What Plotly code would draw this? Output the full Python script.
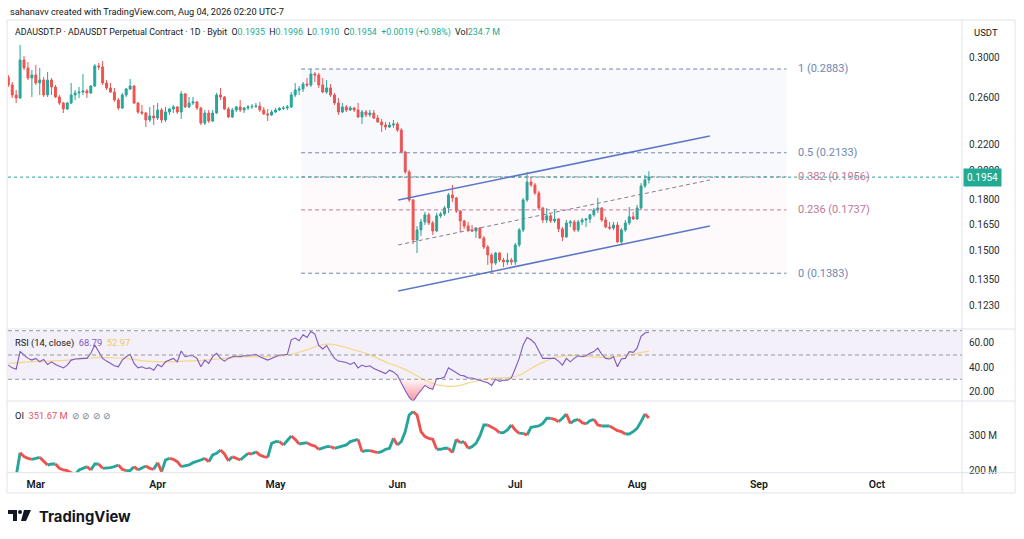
import math
import pandas as pd
import plotly.graph_objects as go

# ---------------- data ----------------
start_day = "2026-02-22"

opens = [
    0.2801, 0.2722, 0.2626, 0.2598, 0.2978, 0.2894, 0.2791, 0.2822, 0.2742, 0.2771,
    0.2626, 0.2771, 0.2702, 0.2607, 0.2551, 0.2497, 0.2551, 0.2626, 0.2645, 0.2654,
    0.2664, 0.2645, 0.2712, 0.2915, 0.2905, 0.2742, 0.2693, 0.2654, 0.2579, 0.2506,
    0.2626, 0.2683, 0.2712, 0.2551, 0.2470, 0.2461, 0.2400, 0.2435, 0.2417, 0.2488,
    0.2400, 0.2470, 0.2497, 0.2515, 0.2470, 0.2636, 0.2515, 0.2551, 0.2561, 0.2506,
    0.2374, 0.2461, 0.2391, 0.2461, 0.2626, 0.2607, 0.2497, 0.2426, 0.2488, 0.2515,
    0.2488, 0.2506, 0.2515, 0.2520, 0.2524, 0.2488, 0.2453, 0.2444, 0.2470, 0.2488,
    0.2501, 0.2506, 0.2515, 0.2626, 0.2673, 0.2683, 0.2732, 0.2722, 0.2832, 0.2822,
    0.2722, 0.2654, 0.2693, 0.2626, 0.2551, 0.2470, 0.2515, 0.2488, 0.2506, 0.2488,
    0.2426, 0.2470, 0.2444, 0.2461, 0.2417, 0.2383, 0.2357, 0.2340, 0.2357, 0.2366,
    0.2315, 0.2139, 0.1991, 0.1800, 0.1559, 0.1616, 0.1663, 0.1706, 0.1657, 0.1610,
    0.1700, 0.1712, 0.1749, 0.1833, 0.1813, 0.1730, 0.1669, 0.1639, 0.1616, 0.1610,
    0.1627, 0.1570, 0.1520, 0.1477, 0.1435, 0.1487, 0.1450, 0.1440, 0.1450, 0.1440,
    0.1531, 0.1616, 0.1800, 0.1920, 0.1900, 0.1846, 0.1749, 0.1675, 0.1700, 0.1669,
    0.1681, 0.1622, 0.1576, 0.1657, 0.1663, 0.1616, 0.1663, 0.1675, 0.1681, 0.1706,
    0.1736, 0.1749, 0.1675, 0.1633, 0.1627, 0.1645, 0.1548, 0.1616, 0.1657, 0.1694,
    0.1681, 0.1749, 0.1893, 0.1935,
]
highs = [
    0.2822, 0.2751, 0.2673, 0.3144, 0.3022, 0.2957, 0.2873, 0.2925, 0.2894, 0.2801,
    0.2852, 0.2791, 0.2722, 0.2626, 0.2561, 0.2561, 0.2742, 0.2673, 0.2702, 0.2832,
    0.2683, 0.2722, 0.2936, 0.2946, 0.2967, 0.2771, 0.2742, 0.2693, 0.2598, 0.2645,
    0.2693, 0.2781, 0.2722, 0.2561, 0.2533, 0.2470, 0.2515, 0.2533, 0.2551, 0.2506,
    0.2515, 0.2506, 0.2533, 0.2524, 0.2664, 0.2645, 0.2607, 0.2607, 0.2570, 0.2515,
    0.2488, 0.2488, 0.2488, 0.2645, 0.2693, 0.2617, 0.2515, 0.2506, 0.2524, 0.2579,
    0.2515, 0.2533, 0.2542, 0.2551, 0.2561, 0.2515, 0.2497, 0.2488, 0.2506, 0.2515,
    0.2524, 0.2533, 0.2654, 0.2742, 0.2712, 0.2751, 0.2791, 0.2883, 0.2852, 0.2842,
    0.2791, 0.2771, 0.2732, 0.2645, 0.2598, 0.2551, 0.2533, 0.2524, 0.2515, 0.2551,
    0.2488, 0.2488, 0.2488, 0.2488, 0.2444, 0.2409, 0.2383, 0.2383, 0.2400, 0.2383,
    0.2332, 0.2147, 0.2005, 0.1806, 0.1639, 0.1681, 0.1724, 0.1718, 0.1669, 0.1718,
    0.1724, 0.1761, 0.1846, 0.1900, 0.1820, 0.1736, 0.1675, 0.1663, 0.1645, 0.1633,
    0.1633, 0.1581, 0.1531, 0.1487, 0.1493, 0.1493, 0.1461, 0.1487, 0.1461, 0.1542,
    0.1627, 0.1813, 0.1991, 0.1955, 0.1913, 0.1859, 0.1755, 0.1749, 0.1712, 0.1736,
    0.1687, 0.1633, 0.1675, 0.1675, 0.1675, 0.1675, 0.1687, 0.1687, 0.1712, 0.1749,
    0.1813, 0.1755, 0.1694, 0.1663, 0.1663, 0.1663, 0.1627, 0.1675, 0.1755, 0.1724,
    0.1768, 0.1913, 0.1969, 0.1996,
]
lows = [
    0.2702, 0.2598, 0.2551, 0.2589, 0.2873, 0.2771, 0.2607, 0.2722, 0.2626, 0.2607,
    0.2607, 0.2626, 0.2598, 0.2533, 0.2461, 0.2488, 0.2542, 0.2579, 0.2598, 0.2626,
    0.2598, 0.2636, 0.2702, 0.2873, 0.2722, 0.2673, 0.2645, 0.2561, 0.2488, 0.2497,
    0.2607, 0.2673, 0.2542, 0.2453, 0.2444, 0.2340, 0.2383, 0.2357, 0.2400, 0.2374,
    0.2383, 0.2444, 0.2461, 0.2453, 0.2409, 0.2506, 0.2506, 0.2533, 0.2488, 0.2357,
    0.2357, 0.2374, 0.2383, 0.2453, 0.2579, 0.2488, 0.2417, 0.2417, 0.2470, 0.2470,
    0.2461, 0.2488, 0.2497, 0.2506, 0.2470, 0.2444, 0.2391, 0.2435, 0.2461, 0.2479,
    0.2488, 0.2488, 0.2506, 0.2607, 0.2626, 0.2654, 0.2702, 0.2702, 0.2751, 0.2693,
    0.2645, 0.2636, 0.2607, 0.2533, 0.2444, 0.2461, 0.2470, 0.2479, 0.2470, 0.2417,
    0.2366, 0.2426, 0.2426, 0.2409, 0.2374, 0.2299, 0.2315, 0.2332, 0.2332, 0.2299,
    0.2131, 0.1977, 0.1787, 0.1537, 0.1487, 0.1581, 0.1645, 0.1645, 0.1587, 0.1604,
    0.1687, 0.1700, 0.1718, 0.1787, 0.1718, 0.1604, 0.1622, 0.1604, 0.1604, 0.1570,
    0.1564, 0.1509, 0.1425, 0.1383, 0.1425, 0.1440, 0.1414, 0.1425, 0.1425, 0.1425,
    0.1520, 0.1604, 0.1787, 0.1886, 0.1833, 0.1736, 0.1657, 0.1657, 0.1657, 0.1657,
    0.1604, 0.1553, 0.1570, 0.1633, 0.1604, 0.1604, 0.1645, 0.1633, 0.1657, 0.1694,
    0.1718, 0.1663, 0.1627, 0.1616, 0.1616, 0.1542, 0.1537, 0.1604, 0.1645, 0.1675,
    0.1675, 0.1736, 0.1880, 0.1910,
]
closes = [
    0.2722, 0.2626, 0.2598, 0.2978, 0.2894, 0.2791, 0.2822, 0.2742, 0.2771, 0.2626,
    0.2771, 0.2702, 0.2607, 0.2551, 0.2497, 0.2551, 0.2626, 0.2645, 0.2654, 0.2664,
    0.2645, 0.2712, 0.2915, 0.2905, 0.2742, 0.2693, 0.2654, 0.2579, 0.2506, 0.2626,
    0.2683, 0.2712, 0.2551, 0.2470, 0.2461, 0.2400, 0.2435, 0.2417, 0.2488, 0.2400,
    0.2470, 0.2497, 0.2515, 0.2470, 0.2636, 0.2515, 0.2551, 0.2561, 0.2506, 0.2374,
    0.2461, 0.2391, 0.2461, 0.2626, 0.2607, 0.2497, 0.2426, 0.2488, 0.2515, 0.2488,
    0.2506, 0.2515, 0.2520, 0.2524, 0.2488, 0.2453, 0.2444, 0.2470, 0.2488, 0.2501,
    0.2506, 0.2515, 0.2626, 0.2673, 0.2683, 0.2732, 0.2722, 0.2832, 0.2822, 0.2722,
    0.2654, 0.2693, 0.2626, 0.2551, 0.2470, 0.2515, 0.2488, 0.2506, 0.2488, 0.2426,
    0.2470, 0.2444, 0.2461, 0.2417, 0.2383, 0.2357, 0.2340, 0.2357, 0.2366, 0.2315,
    0.2139, 0.1991, 0.1800, 0.1559, 0.1616, 0.1663, 0.1706, 0.1657, 0.1610, 0.1700,
    0.1712, 0.1749, 0.1833, 0.1813, 0.1730, 0.1669, 0.1639, 0.1616, 0.1610, 0.1627,
    0.1570, 0.1520, 0.1477, 0.1435, 0.1487, 0.1450, 0.1440, 0.1450, 0.1440, 0.1531,
    0.1616, 0.1800, 0.1920, 0.1900, 0.1846, 0.1749, 0.1675, 0.1700, 0.1669, 0.1681,
    0.1622, 0.1576, 0.1657, 0.1663, 0.1616, 0.1663, 0.1675, 0.1681, 0.1706, 0.1736,
    0.1749, 0.1675, 0.1633, 0.1627, 0.1645, 0.1548, 0.1616, 0.1657, 0.1694, 0.1681,
    0.1749, 0.1893, 0.1935, 0.1954,
]

rsi = [
    41.7, 39.4, 38.3, 52.8, 50.0, 47.2, 45.8, 47.2, 44.4, 46.4,
    42.2, 44.4, 42.2, 41.1, 39.4, 41.7, 45.8, 46.7, 47.2, 47.2,
    47.2, 51.4, 58.3, 52.2, 47.2, 45.0, 43.1, 41.1, 40.3, 45.8,
    48.6, 50.6, 43.1, 39.4, 40.3, 38.9, 39.4, 37.5, 42.2, 40.3,
    44.4, 45.8, 47.2, 44.4, 53.3, 48.6, 49.4, 49.4, 47.2, 40.3,
    45.8, 43.1, 48.6, 51.4, 47.2, 45.0, 47.2, 48.6, 49.2, 48.6,
    49.4, 49.4, 50.0, 50.6, 48.6, 47.2, 45.8, 47.2, 48.6, 50.0,
    50.0, 50.6, 62.5, 63.9, 61.7, 66.7, 64.4, 69.4, 67.2, 57.8,
    55.0, 57.8, 52.2, 47.2, 45.0, 44.4, 43.9, 42.2, 43.9, 39.4,
    41.7, 40.3, 41.1, 38.9, 37.5, 36.1, 34.7, 37.5, 36.1, 33.3,
    26.4, 20.8, 15.3, 11.7, 16.7, 20.8, 25.0, 22.8, 21.7, 30.6,
    30.6, 31.9, 39.4, 37.5, 35.6, 33.3, 32.8, 31.1, 31.1, 30.0,
    29.2, 27.8, 27.2, 25.0, 30.0, 28.3, 29.2, 29.2, 31.1, 38.9,
    47.2, 58.3, 64.4, 62.5, 59.7, 53.3, 47.2, 47.2, 47.2, 47.2,
    45.0, 41.7, 47.2, 44.4, 47.2, 49.4, 48.6, 49.4, 51.4, 52.8,
    55.6, 50.6, 47.2, 46.7, 48.6, 40.3, 46.7, 47.2, 52.8, 52.2,
    55.6, 65.3, 68.1, 68.79,
]

# RSI moving average, read every few days
rsi_ma_days = [
    "2026-02-22", "2026-02-27", "2026-03-04", "2026-03-09", "2026-03-14", "2026-03-17",
    "2026-03-20", "2026-03-24", "2026-03-29", "2026-04-03", "2026-04-08", "2026-04-13",
    "2026-04-18", "2026-04-23", "2026-04-28", "2026-05-03", "2026-05-06", "2026-05-09",
    "2026-05-12", "2026-05-15", "2026-05-18", "2026-05-21", "2026-05-24", "2026-05-27",
    "2026-05-30", "2026-06-02", "2026-06-05", "2026-06-08", "2026-06-11", "2026-06-14",
    "2026-06-17", "2026-06-20", "2026-06-23", "2026-06-26", "2026-06-29", "2026-07-02",
    "2026-07-05", "2026-07-08", "2026-07-11", "2026-07-14", "2026-07-17", "2026-07-20",
    "2026-07-23", "2026-07-26", "2026-07-29", "2026-08-01", "2026-08-04",
]
rsi_ma = [
    43.0, 44.4, 45.0, 45.8, 47.2, 48.0,
    47.8, 47.2, 45.0, 44.4, 45.0, 45.8,
    47.2, 48.6, 48.6, 49.4, 51.4, 54.2,
    57.8, 58.9, 57.0, 54.2, 51.4, 47.2,
    43.0, 39.4, 34.7, 29.2, 25.6, 24.2,
    25.0, 27.8, 30.0, 31.1, 31.4, 33.3,
    38.9, 43.9, 47.8, 49.4, 49.4, 48.6,
    48.0, 48.6, 49.4, 51.4, 52.97,
]

# open interest, millions
oi = [
    None, None, 185.0, 252.4, 241.0, 236.2, 233.3, 236.2, 239.0, 226.7,
    217.1, 220.0, 220.0, 207.6, 202.9, 201.0, 195.2, 189.5, 202.9, 207.6,
    212.4, 202.9, 220.0, 220.0, 207.6, 207.6, 209.5, 212.4, 217.1, 204.8,
    201.0, 201.0, 212.4, 202.9, 207.6, 214.3, 207.6, 204.8, 223.8, 198.1,
    231.4, 236.2, 233.3, 226.7, 212.4, 214.3, 217.1, 223.8, 226.7, 231.4,
    236.2, 226.7, 245.7, 250.5, 260.0, 248.6, 229.5, 241.0, 236.2, 231.4,
    241.0, 250.5, 248.6, 255.2, 245.7, 241.0, 239.0, 279.0, 283.8, 283.8,
    274.3, 288.6, 300.0, 290.5, 277.1, 279.0, 281.0, 274.3, 271.4, 261.9,
    266.7, 269.5, 269.5, 264.8, 267.6, 269.5, 274.3, 283.8, 286.7, 290.5,
    255.2, 258.1, 258.1, 255.2, 252.4, 255.2, 261.9, 264.8, 293.3, 274.3,
    283.8, 312.4, 360.0, 369.5, 360.0, 312.4, 298.1, 293.3, 290.5, 261.9,
    261.9, 264.8, 264.8, 252.4, 290.5, 281.0, 283.8, 264.8, 269.5, 279.0,
    300.0, 331.4, 331.4, 324.8, 319.0, 309.5, 309.5, 317.1, 331.4, 317.1,
    307.6, 307.6, 302.9, 324.8, 326.7, 328.6, 336.2, 350.5, 350.5, 347.6,
    341.0, 350.5, 362.9, 336.2, 343.8, 347.6, 338.1, 334.3, 343.8, 347.6,
    331.4, 328.6, 328.6, 328.6, 321.9, 315.2, 312.4, 305.7, 305.7, 312.4,
    321.9, 341.0, 362.9, 351.67,
]

fib_ratios = ["1", "0.5", "0.382", "0.236", "0"]
fib_prices = [0.2883, 0.2133, 0.1956, 0.1737, 0.1383]
fib_span = ["2026-05-07 12:00", "2026-09-08"]

chan_days = ["2026-06-01 05:00", "2026-08-19 12:00"]
chan_upper = [0.1800, 0.2266]
chan_mid = [0.1531, 0.1934]
chan_lower = [0.1297, 0.1639]

price_ticks = [0.3000, 0.2600, 0.2200, 0.2000, 0.1800, 0.1650, 0.1500, 0.1350, 0.1230]
rsi_ticks = [60, 40, 20]
oi_ticks = [300, 200]

last_ohlc = [0.1935, 0.1996, 0.1910, 0.1954]
last_change = "+0.0019 (+0.98%)"
last_vol = "234.7 M"
last_rsi, last_rsi_ma = 68.79, 52.97
last_oi = 351.67

# ---------------- styling / geometry ----------------
W, H = 1024, 539
UP, DOWN = "#26a69a", "#ef5350"
TXT = "#131722"
FONT = "Roboto"
FIB_BLUE, FIB_PINK = "#6f86b6", "#c0789a"


def fx(px):
    return px / W


def fy(py):
    return 1 - py / H


dates = pd.date_range(start_day, periods=len(closes), freq="D")
x_range = ["2026-02-21 22:10", "2026-10-22 16:00"]

fig = go.Figure()

# fib shading (behind candles)
fig.add_trace(go.Scatter(
    x=[fib_span[0], fib_span[1], fib_span[1], fib_span[0], fib_span[0]],
    y=[fib_prices[0], fib_prices[0], fib_prices[2], fib_prices[2], fib_prices[0]],
    fill="toself", fillcolor="rgba(120,140,200,0.055)", line=dict(width=0),
    mode="lines", hoverinfo="skip", xaxis="x", yaxis="y"))
fig.add_trace(go.Scatter(
    x=[fib_span[0], fib_span[1], fib_span[1], fib_span[0], fib_span[0]],
    y=[fib_prices[2], fib_prices[2], fib_prices[4], fib_prices[4], fib_prices[2]],
    fill="toself", fillcolor="rgba(240,120,150,0.045)", line=dict(width=0),
    mode="lines", hoverinfo="skip", xaxis="x", yaxis="y"))

for ratio, price in zip(fib_ratios, fib_prices):
    col = FIB_PINK if ratio in ("0.382", "0.236") else FIB_BLUE
    fig.add_trace(go.Scatter(
        x=fib_span, y=[price, price], mode="lines",
        line=dict(color=col, width=1, dash="4px,3px"),
        hoverinfo="skip", xaxis="x", yaxis="y"))

# current price dotted line
fig.add_trace(go.Scatter(
    x=x_range, y=[last_ohlc[3]] * 2, mode="lines",
    line=dict(color=UP, width=1, dash="dot"), hoverinfo="skip", xaxis="x", yaxis="y"))

# channel
for ys in (chan_upper, chan_lower):
    fig.add_trace(go.Scatter(x=chan_days, y=ys, mode="lines",
                             line=dict(color="#5b78c8", width=1.6),
                             hoverinfo="skip", xaxis="x", yaxis="y"))
fig.add_trace(go.Scatter(x=chan_days, y=chan_mid, mode="lines",
                         line=dict(color="#7d818c", width=1, dash="4px,3px"),
                         hoverinfo="skip", xaxis="x", yaxis="y"))

fig.add_trace(go.Candlestick(
    x=dates, open=opens, high=highs, low=lows, close=closes,
    increasing=dict(line=dict(color=UP, width=1), fillcolor=UP),
    decreasing=dict(line=dict(color=DOWN, width=1), fillcolor=DOWN),
    whiskerwidth=0, hoverinfo="skip", xaxis="x", yaxis="y"))

# ---- RSI pane ----
rsi_low = [min(v, 30) for v in rsi]
fig.add_trace(go.Scatter(x=dates, y=[30] * len(rsi), mode="lines", line=dict(width=0),
                         hoverinfo="skip", xaxis="x2", yaxis="y2"))
fig.add_trace(go.Scatter(
    x=dates, y=rsi_low, mode="lines", line=dict(width=0), fill="tonexty",
    fillgradient=dict(type="vertical",
                      colorscale=[[0, "rgba(242,54,69,0.55)"], [1, "rgba(242,54,69,0.04)"]]),
    hoverinfo="skip", xaxis="x2", yaxis="y2"))
fig.add_trace(go.Scatter(x=rsi_ma_days, y=rsi_ma, mode="lines", line_shape="spline",
                         line=dict(color="#f6d68c", width=1.2),
                         hoverinfo="skip", xaxis="x2", yaxis="y2"))
fig.add_trace(go.Scatter(x=dates, y=rsi, mode="lines",
                         line=dict(color="#7e57c2", width=1.1),
                         hoverinfo="skip", xaxis="x2", yaxis="y2"))

# ---- OI pane: coloured by direction ----
runs = []
for i in range(1, len(oi)):
    if oi[i - 1] is None or oi[i] is None:
        continue
    up = oi[i] >= oi[i - 1]
    if runs and runs[-1][0] == up and runs[-1][1][-1] == i - 1:
        runs[-1][1].append(i)
    else:
        runs.append([up, [i - 1, i]])
for up_flag, col in ((True, UP), (False, DOWN)):
    xs, ys = [], []
    for up, idx in runs:
        if up != up_flag:
            continue
        xs += [dates[k] for k in idx] + [None]
        ys += [oi[k] for k in idx] + [None]
    fig.add_trace(go.Scatter(x=xs, y=ys, mode="lines",
                             line=dict(color=col, width=2.9),
                             hoverinfo="skip", xaxis="x3", yaxis="y3"))

# ---------------- layout ----------------
x_dom = [fx(8), fx(962)]
axis_font = dict(family=FONT, size=10, color="#2a2e39")
common_x = dict(domain=x_dom, range=x_range, type="date", showgrid=False,
                zeroline=False, showline=False, fixedrange=True, automargin=False)

fig.update_layout(
    template="none",
    width=W, height=H, margin=dict(l=0, r=0, t=0, b=0, pad=0), autosize=False,
    paper_bgcolor="white", plot_bgcolor="white", showlegend=False,
    hovermode=False, font=dict(family=FONT, color=TXT),
    xaxis=dict(common_x, anchor="y", showticklabels=False, rangeslider=dict(visible=False)),
    xaxis2=dict(common_x, anchor="y2", showticklabels=False, matches="x"),
    xaxis3=dict(common_x, anchor="y3", matches="x", showticklabels=True,
                tick0="2026-03-01", dtick="M1", tickformat="%b", ticks="",
                ticklabelstandoff=4,
                tickfont=dict(family=FONT, size=10.5, color=TXT, weight=600)),
    yaxis=dict(domain=[fy(329), fy(20)], type="log", range=[-0.94632, -0.46361],
               side="right", anchor="x", showgrid=False, zeroline=False, automargin=False,
               tickvals=price_ticks, ticktext=[f"{v:.4f}" for v in price_ticks],
               tickfont=axis_font, ticks="", ticklabelstandoff=6),
    yaxis2=dict(domain=[fy(401), fy(329)], range=[12.14, 71.4], side="right",
                anchor="x2", showgrid=False, zeroline=False, automargin=False,
                tickvals=rsi_ticks, ticktext=[f"{v:.2f}" for v in rsi_ticks],
                tickfont=axis_font, ticks="", ticklabelstandoff=6),
    yaxis3=dict(domain=[fy(472.7), fy(401)], range=[195.1, 400], side="right",
                anchor="x3", showgrid=False, zeroline=False, automargin=False,
                tickvals=oi_ticks, ticktext=[f"{v} M" for v in oi_ticks],
                tickfont=axis_font, ticks="", ticklabelstandoff=6),
)

GRID = "#e0e3eb"
shapes = [
    dict(type="rect", xref="paper", yref="paper", x0=fx(7), x1=fx(1015), y0=fy(493), y1=fy(20),
         line=dict(color=GRID, width=1)),
    dict(type="line", xref="paper", yref="paper", x0=fx(7), x1=fx(1015), y0=fy(329), y1=fy(329),
         line=dict(color=GRID, width=1)),
    dict(type="line", xref="paper", yref="paper", x0=fx(7), x1=fx(1015), y0=fy(401), y1=fy(401),
         line=dict(color=GRID, width=1)),
    dict(type="line", xref="paper", yref="paper", x0=fx(7), x1=fx(1015), y0=fy(472.7), y1=fy(472.7),
         line=dict(color=GRID, width=1)),
    dict(type="line", xref="paper", yref="paper", x0=fx(962), x1=fx(962), y0=fy(493), y1=fy(20),
         line=dict(color=GRID, width=1)),
    # RSI band and levels
    dict(type="rect", xref="paper", yref="y2", x0=x_dom[0], x1=x_dom[1], y0=30, y1=70,
         fillcolor="rgba(126,87,194,0.09)", line=dict(width=0), layer="below"),
]
for lvl in (70, 50, 30):
    shapes.append(dict(type="line", xref="paper", yref="y2", x0=x_dom[0], x1=x_dom[1],
                       y0=lvl, y1=lvl, line=dict(color="#9598a1", width=1, dash="4px,3px")))
# TradingView logo glyph
shapes += [
    dict(type="rect", xref="paper", yref="paper", x0=fx(8), x1=fx(17), y0=fy(514), y1=fy(510),
         fillcolor=TXT, line=dict(width=0)),
    dict(type="rect", xref="paper", yref="paper", x0=fx(13), x1=fx(17), y0=fy(521), y1=fy(510),
         fillcolor=TXT, line=dict(width=0)),
    dict(type="circle", xref="paper", yref="paper", x0=fx(18), x1=fx(22), y0=fy(514), y1=fy(510),
         fillcolor=TXT, line=dict(width=0)),
    dict(type="path", xref="paper", yref="paper",
         path=f"M {fx(24)},{fy(510)} L {fx(31)},{fy(510)} L {fx(26)},{fy(521)} L {fx(21)},{fy(521)} Z",
         fillcolor=TXT, line=dict(width=0)),
]
fig.update_layout(shapes=shapes)

NB = "\u00a0"
G = "#22ab94"


def val(v):
    return f"<span style='color:{G}'>{v}</span>"


legend = (f"ADAUSDT.P · ADAUSDT Perpetual Contract · 1D · Bybit{NB*2}"
          f"O{val(f'{last_ohlc[0]:.4f}')}{NB*2}H{val(f'{last_ohlc[1]:.4f}')}{NB*2}"
          f"L{val(f'{last_ohlc[2]:.4f}')}{NB*2}C{val(f'{last_ohlc[3]:.4f}')}{NB*2}"
          f"{val(last_change)}{NB*2}Vol{val(last_vol)}")

ann = [
    dict(x=fx(8), y=fy(12), text="sahanavv created with TradingView.com, Aug 04, 2026 02:20 UTC-7",
         font=dict(size=9.2, color=TXT)),
    dict(x=fx(13), y=fy(33), text=legend, font=dict(size=8.9, color=TXT)),
    dict(x=fx(972), y=fy(33), text="USDT", font=dict(size=9.5, color=TXT)),
    dict(x=fx(13), y=fy(343), text=(f"RSI (14, close){NB*2}<span style='color:#7e57c2'>{last_rsi:.2f}</span>"
                                     f"{NB*2}<span style='color:#f2c75c'>{last_rsi_ma:.2f}</span>"),
         font=dict(size=9.3, color=TXT)),
    dict(x=fx(13), y=fy(415), text=(f"OI{NB*2}<span style='color:#e25563'>{last_oi:.2f} M</span>"
                                     f"{NB*2}<span style='color:#787b86'>⊘{NB}⊘{NB}⊘{NB}⊘</span>"),
         font=dict(size=9.3, color=TXT)),
    dict(x=fx(37), y=fy(517), text="<b>TradingView</b>", font=dict(size=14.8, color=TXT, family="Inter")),
]
for a in ann:
    a.update(xref="paper", yref="paper", xanchor="left", yanchor="middle", showarrow=False)

for ratio, price in zip(fib_ratios, fib_prices):
    col = FIB_PINK if ratio in ("0.382", "0.236") else FIB_BLUE
    ann.append(dict(x="2026-09-10 12:00", xref="x", y=math.log10(price), yref="y",
                    text=f"{ratio} ({price:.4f})", xanchor="left", yanchor="middle",
                    showarrow=False, font=dict(size=11, color=col)))

ann.append(dict(x=fx(963), xref="paper", y=math.log10(last_ohlc[3]), yref="y",
                text=f"{last_ohlc[3]:.4f}", xanchor="left", yanchor="middle", showarrow=False,
                bgcolor=G, borderpad=3, font=dict(size=10, color="white")))

fig.update_layout(annotations=ann)

fig.write_html(
    "out.html",
    config={"displayModeBar": False, "staticPlot": True},
    post_script=("document.documentElement.style.overflow='hidden';"
                 "document.body.style.margin='0';document.body.style.overflow='hidden';"),
)
